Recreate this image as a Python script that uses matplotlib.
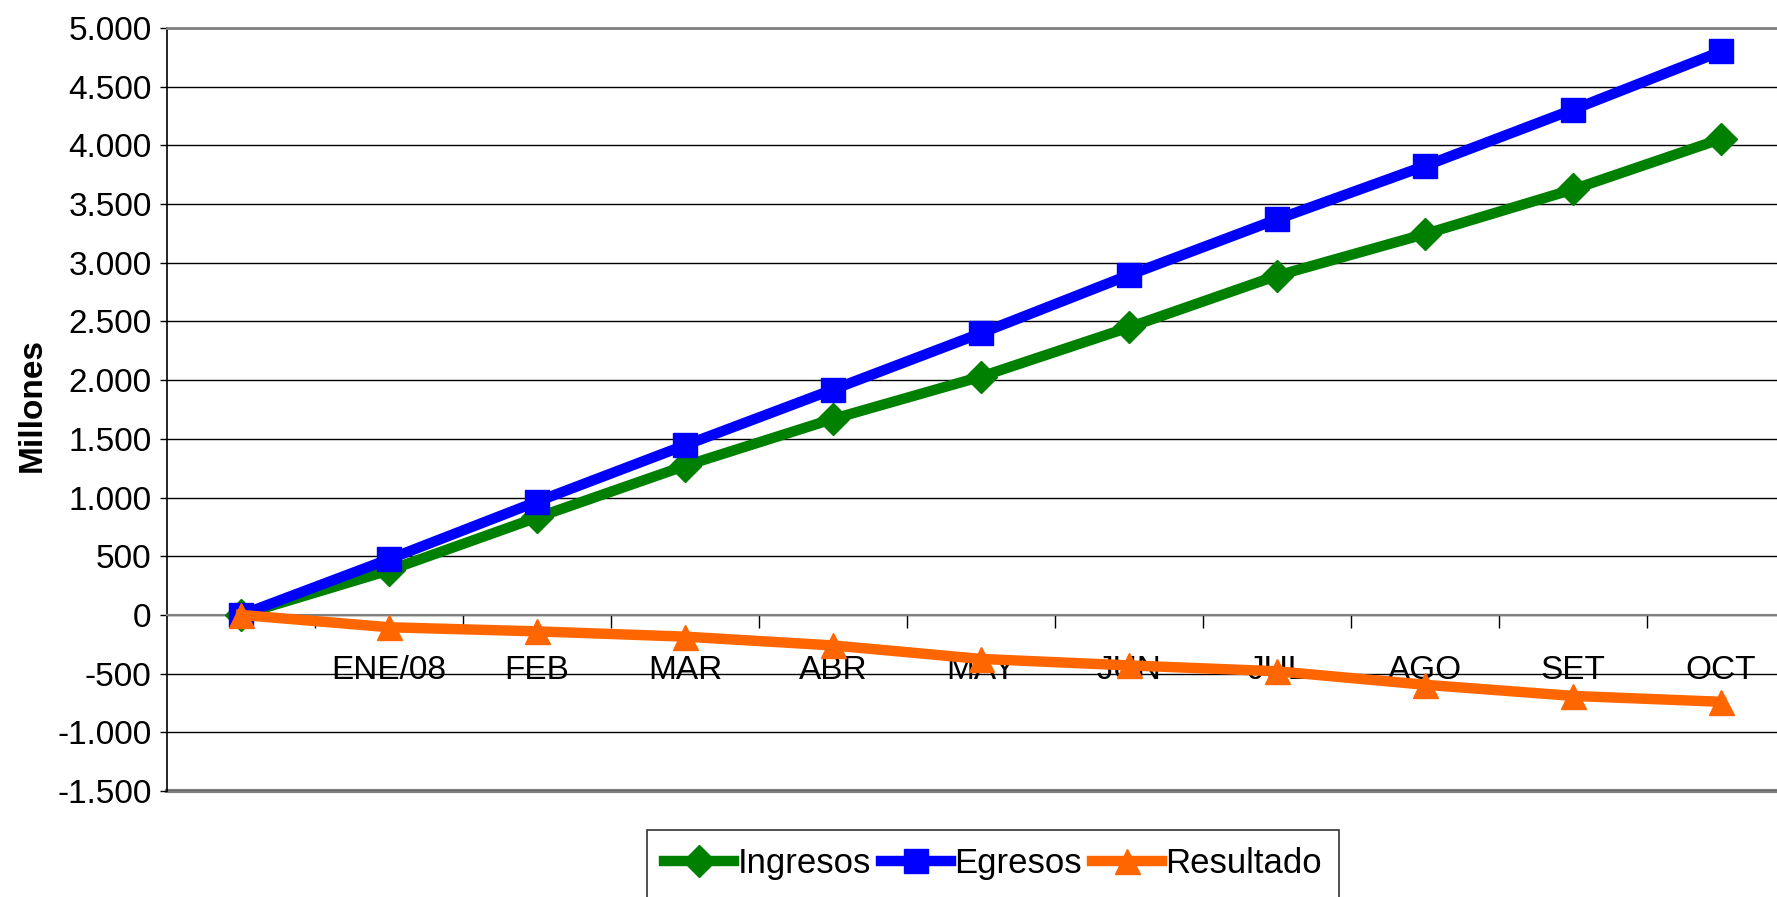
import matplotlib
matplotlib.use("Agg")
import matplotlib.pyplot as plt
from matplotlib.ticker import FixedLocator, FuncFormatter

plt.rcParams["font.family"] = ["Liberation Sans", "DejaVu Sans"]

# categories (the first one has no label)
MESES = ["", "ENE/08", "FEB", "MAR", "ABR", "MAY", "JUN", "JUL", "AGO", "SET", "OCT"]
INGRESOS = [0, 380, 830, 1270, 1670, 2030, 2450, 2890, 3245, 3625, 4055]
EGRESOS = [0, 475, 965, 1445, 1920, 2400, 2895, 3370, 3825, 4305, 4800]
RESULTADO = [0, -105, -140, -185, -260, -375, -430, -480, -595, -690, -740]

W, H = 1777, 897
fig = plt.figure(figsize=(W / 100, H / 100), dpi=100)
ax = fig.add_axes([167 / W, 1 - 791 / H, 11 * 148 / W, (791 - 28) / H])

x = list(range(len(MESES)))
ax.plot(x, INGRESOS, color="#008000", lw=7.5, marker="D", ms=16,
        label="Ingresos", zorder=3, clip_on=False)
ax.plot(x, EGRESOS, color="#0000FF", lw=7.5, marker="s", ms=17,
        label="Egresos", zorder=4, clip_on=False)
ax.plot(x, RESULTADO, color="#FF6600", lw=7.5, marker="^", ms=18,
        label="Resultado", zorder=5, clip_on=False)

ax.set_xlim(-0.5, len(MESES) - 0.5)
ax.set_ylim(-1500, 5000)
ax.set_yticks(range(-1500, 5001, 500))
ax.yaxis.set_major_formatter(FuncFormatter(lambda v, p: f"{v:,.0f}".replace(",", ".")))
ax.grid(axis="y", color="black", lw=1.0, zorder=0)
ax.tick_params(axis="y", labelsize=24, length=5, width=1, pad=6)

# category axis crossing at zero, ticks between categories
ax.spines["bottom"].set_position(("data", 0))
ax.spines["bottom"].set_color("#808080")
ax.spines["bottom"].set_linewidth(1.5)
ax.xaxis.set_major_locator(FixedLocator([i + 0.5 for i in range(len(MESES) - 1)]))
ax.xaxis.set_major_formatter(FuncFormatter(lambda v, p: ""))
ax.xaxis.set_minor_locator(FixedLocator(x))
ax.set_xticklabels(MESES, minor=True)
ax.tick_params(axis="x", which="major", length=9, width=1, direction="out", color="black")
ax.tick_params(axis="x", which="minor", length=0, pad=29, labelsize=24)

ax.spines["left"].set_color("black")
ax.spines["left"].set_linewidth(1.2)
for s in ("top", "right"):
    ax.spines[s].set_color("#808080")
    ax.spines[s].set_linewidth(2)
ax.axhline(-1500, color="#808080", lw=3, zorder=1, clip_on=False)

fig.text(32 / W, 1 - 405 / H, "Millones", rotation=90, ha="center", va="center",
         fontsize=24, fontweight="bold")

leg = fig.legend(loc="upper center", bbox_to_anchor=(993 / W, 1 - 830 / H), ncol=3,
                 fontsize=25, frameon=True, fancybox=False, handlelength=2.0,
                 handletextpad=0.1, columnspacing=0.3, borderpad=0.5,
                 borderaxespad=0)
leg.get_frame().set_edgecolor("black")
leg.get_frame().set_linewidth(1.2)

fig.savefig("out.png", dpi=100)
